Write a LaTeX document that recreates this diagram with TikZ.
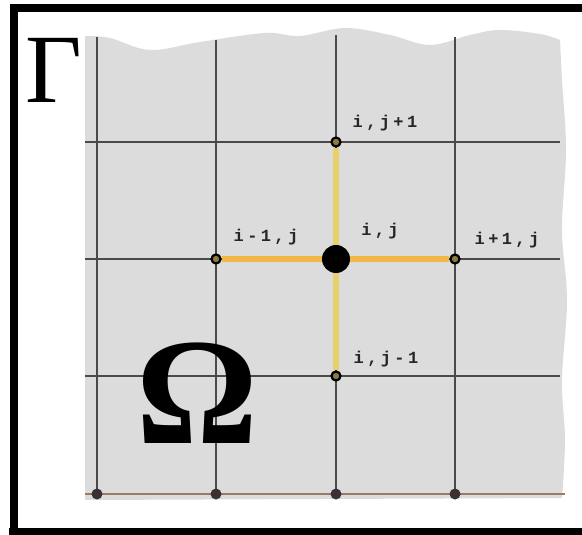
\documentclass[tikz,border=0pt]{standalone}
\usepackage{fontspec}
\newfontfamily\grkfont{Liberation Serif}
\newfontfamily\labfont[LetterSpace=20]{Liberation Mono}
\definecolor{regiongray}{HTML}{DCDCDC}
\definecolor{gridgray}{HTML}{4A4A4A}
\definecolor{yelv}{HTML}{E8D16C}
\definecolor{yelh}{HTML}{F2B845}
\definecolor{brownline}{HTML}{9C7A66}
\definecolor{bdot}{HTML}{3A3232}
\begin{document}
\begin{tikzpicture}[x=1pt,y=-1pt,
  gridline/.style={draw=gridgray,line width=1.8pt},
  smalldot/.style={circle,draw=black,fill=yelv!60!black,line width=2.2pt,minimum size=9pt,inner sep=0pt},
  bigdot/.style={circle,fill=black,minimum size=28pt,inner sep=0pt},
  botdot/.style={circle,fill=bdot,minimum size=11pt,inner sep=0pt},
  lab/.style={font=\labfont\bfseries\fontsize{17}{17}\selectfont,text=black!85,inner sep=0pt},
  yv/.style={draw=yelv,line width=5.5pt},
  yh/.style={draw=yelh,line width=5.5pt}]
\useasboundingbox (0,0) rectangle (582,535);
\clip (0,0) rectangle (582,535);
\fill[white] (0,0) rectangle (582,535);
% region
\fill[regiongray] plot[smooth,tension=0.6] coordinates {(85,36) (110,38) (150,50) (200,42) (265,33) (300,36) (345,28) (390,35) (430,45) (470,35) (500,30) (540,34) (560,40)}
  -- plot[smooth,tension=0.6] coordinates {(560,40) (562,80) (566,150) (562,230) (567,300) (562,380) (565,440) (562,498)}
  -- (85,500) -- cycle;
% grid
\foreach \yy in {142,259,376} \draw[gridline] (85,\yy) -- (560,\yy);
\draw[gridline] (97,37) -- (97,494);
\draw[gridline] (216,40) -- (216,494);
\draw[gridline] (336,35) -- (336,494);
\draw[gridline] (455,37) -- (455,494);
\draw[draw=brownline,line width=2.6pt] (85,494) -- (565,494);
% frame
\draw[black,line width=8pt] (13.5,8) -- (600,8);
\draw[black,line width=8pt] (13.5,4) -- (13.5,540);
\draw[black,line width=8pt] (9,532) -- (600,532);
% nodes
\node[smalldot] (n) at (336,142) {};
\node[smalldot] (w) at (216,259) {};
\node[smalldot] (e) at (455,259) {};
\node[smalldot] (s) at (336,376) {};
\node[bigdot] (c) at (336,259) {};
\node[botdot] (b1) at (97,494) {};
\node[botdot] (b2) at (216,494) {};
\node[botdot] (b3) at (336,494) {};
\node[botdot] (b4) at (455,494) {};
% connectors
\draw[yv] (n) -- (c);
\draw[yv] (c) -- (s);
\draw[yh] (w) -- (c);
\draw[yh] (c) -- (e);
% labels
\node[lab] (ln) at (385,123) {i,j+1};
\node[lab] (lw) at (266,237) {i-1,j};
\node[lab] (lc) at (380,231) {i,j};
\node[lab] (le) at (507,240) {i+1,j};
\node[lab] (ls) at (386,359) {i,j-1};
\node[font=\grkfont\fontsize{98}{98}\selectfont,inner sep=0pt] (gamma) at (54,70) {Γ};
\node[font=\grkfont\bfseries\fontsize{152}{152}\selectfont,inner sep=0pt] (omega) at (197,393) {Ω};
\end{tikzpicture}
\end{document}
